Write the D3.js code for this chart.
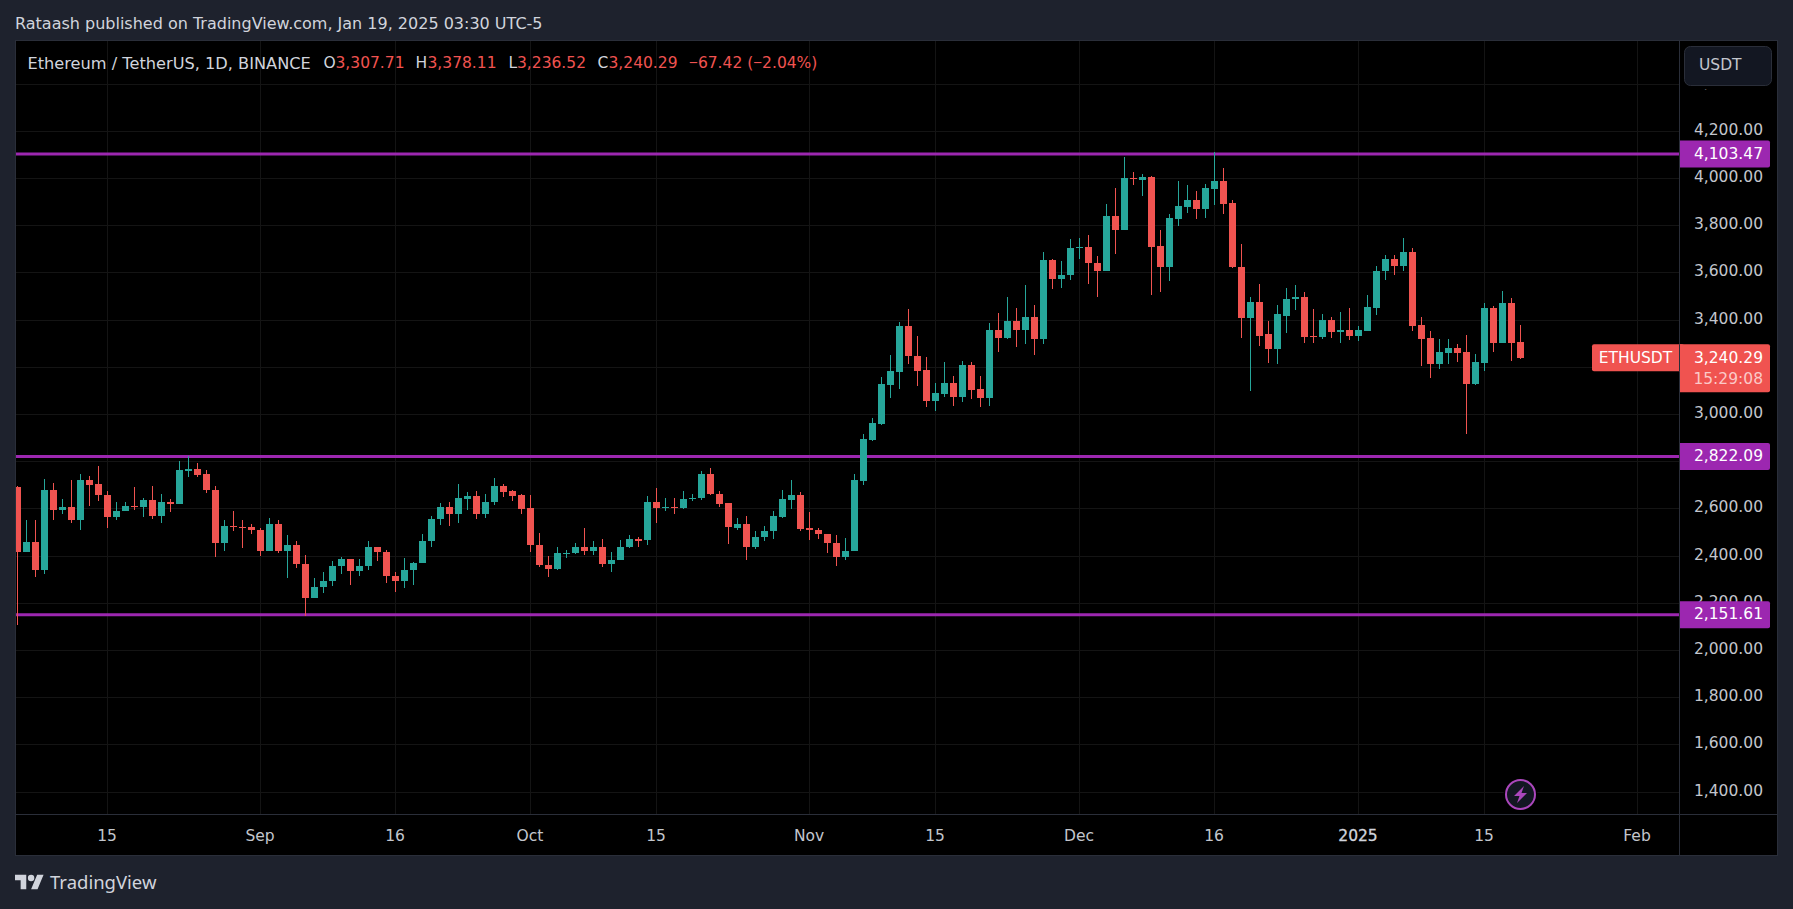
<!DOCTYPE html>
<html>
<head>
<meta charset="utf-8">
<script src="https://cdn.jsdelivr.net/npm/d3@7"></script>
<style>
    html, body { margin: 0; padding: 0; background: #1e222d; overflow: hidden; }
    text { font-family: "DejaVu Sans", sans-serif; }
</style>
</head>
<body>
<div id="chart-area"></div>
<script>
    // ETHUSDT daily candles, Aug 5 2024 -> Jan 19 2025
    const opens = [2691, 2416, 2461, 2340, 2682, 2595, 2610, 2552, 2721, 2704,
        2661, 2565, 2590, 2614, 2606, 2636, 2569, 2631, 2620, 2759,
        2767, 2746, 2682, 2454, 2529, 2525, 2525, 2512, 2420, 2538,
        2420, 2449, 2368, 2221, 2267, 2293, 2357, 2389, 2335, 2357,
        2440, 2419, 2317, 2293, 2340, 2369, 2463, 2556, 2610, 2578,
        2644, 2653, 2578, 2629, 2695, 2674, 2657, 2602, 2449, 2364,
        2344, 2411, 2412, 2440, 2420, 2440, 2365, 2382, 2437, 2474,
        2467, 2631, 2606, 2610, 2603, 2640, 2646, 2746, 2665, 2623,
        2521, 2534, 2437, 2480, 2505, 2565, 2637, 2661, 2517, 2512,
        2495, 2457, 2395, 2420, 2719, 2893, 2961, 3127, 3182, 3376,
        3248, 3189, 3059, 3088, 3134, 3076, 3210, 3108, 3071, 3359,
        3326, 3397, 3356, 3415, 3322, 3653, 3576, 3589, 3704, 3708,
        3644, 3610, 3840, 3780, 4001, 3993, 4006, 3712, 3623, 3827,
        3878, 3908, 3870, 3955, 3989, 3895, 3627, 3411, 3475, 3339,
        3279, 3419, 3491, 3496, 3334, 3330, 3402, 3351, 3360, 3334,
        3355, 3453, 3606, 3657, 3631, 3687, 3381, 3326, 3215, 3262,
        3283, 3266, 3130, 3219, 3453, 3304, 3474, 3307.71];
    const highs = [2699, 2555, 2551, 2725, 2708, 2644, 2721, 2750, 2738, 2780,
        2674, 2631, 2631, 2691, 2648, 2695, 2665, 2644, 2801, 2823,
        2793, 2763, 2699, 2555, 2593, 2551, 2534, 2517, 2563, 2555,
        2491, 2466, 2406, 2308, 2334, 2381, 2398, 2389, 2389, 2466,
        2440, 2427, 2334, 2393, 2376, 2495, 2572, 2623, 2631, 2704,
        2670, 2674, 2665, 2729, 2704, 2682, 2665, 2657, 2500, 2402,
        2440, 2427, 2457, 2521, 2466, 2474, 2419, 2470, 2491, 2483,
        2653, 2687, 2648, 2648, 2674, 2665, 2759, 2772, 2674, 2627,
        2563, 2568, 2508, 2529, 2589, 2682, 2721, 2670, 2585, 2521,
        2495, 2491, 2478, 2746, 2917, 2985, 3159, 3253, 3393, 3448,
        3333, 3244, 3134, 3223, 3163, 3227, 3223, 3163, 3389, 3431,
        3499, 3452, 3547, 3464, 3687, 3661, 3649, 3742, 3746, 3759,
        3670, 3891, 3959, 4091, 4027, 4018, 4010, 3780, 3848, 3989,
        3972, 3946, 3976, 4112, 4044, 3908, 3721, 3500, 3555, 3398,
        3463, 3538, 3547, 3517, 3446, 3427, 3415, 3436, 3453, 3376,
        3508, 3631, 3674, 3674, 3746, 3704, 3415, 3355, 3321, 3321,
        3300, 3338, 3258, 3474, 3461, 3525, 3495, 3378.11];
    const lows = [2110, 2416, 2310, 2323, 2552, 2578, 2539, 2510, 2612, 2633,
        2518, 2552, 2590, 2595, 2565, 2556, 2539, 2586, 2619, 2735,
        2735, 2667, 2395, 2420, 2505, 2433, 2493, 2399, 2420, 2412,
        2306, 2348, 2148, 2221, 2242, 2272, 2323, 2276, 2314, 2340,
        2378, 2284, 2250, 2263, 2276, 2369, 2437, 2531, 2527, 2539,
        2595, 2556, 2561, 2616, 2650, 2633, 2578, 2416, 2352, 2310,
        2340, 2391, 2408, 2403, 2403, 2352, 2331, 2382, 2433, 2437,
        2446, 2539, 2590, 2578, 2599, 2633, 2637, 2657, 2607, 2450,
        2510, 2382, 2429, 2463, 2471, 2561, 2599, 2505, 2467, 2471,
        2412, 2357, 2382, 2420, 2702, 2889, 2957, 3071, 3110, 3212,
        3122, 3033, 3016, 3076, 3037, 3054, 3067, 3033, 3037, 3263,
        3318, 3284, 3300, 3254, 3300, 3530, 3534, 3568, 3661, 3555,
        3500, 3610, 3678, 3780, 3972, 3925, 3508, 3517, 3564, 3797,
        3853, 3827, 3831, 3887, 3848, 3619, 3326, 3101, 3292, 3220,
        3214, 3345, 3441, 3305, 3305, 3321, 3326, 3304, 3317, 3313,
        3355, 3423, 3572, 3593, 3610, 3355, 3207, 3156, 3194, 3215,
        3224, 2918, 3126, 3185, 3266, 3304, 3228, 3236.52];
    const closes = [2416, 2461, 2340, 2682, 2595, 2610, 2552, 2721, 2701, 2658,
        2565, 2593, 2614, 2612, 2636, 2569, 2631, 2620, 2763, 2767,
        2743, 2680, 2454, 2529, 2527, 2522, 2510, 2420, 2538, 2420,
        2449, 2365, 2221, 2270, 2296, 2360, 2389, 2335, 2360, 2440,
        2416, 2314, 2293, 2343, 2372, 2466, 2559, 2610, 2578, 2648,
        2653, 2578, 2631, 2695, 2671, 2654, 2599, 2446, 2361, 2344,
        2415, 2415, 2440, 2420, 2440, 2365, 2385, 2440, 2474, 2466,
        2631, 2603, 2610, 2603, 2644, 2648, 2746, 2663, 2620, 2522,
        2534, 2437, 2483, 2508, 2568, 2640, 2661, 2514, 2510, 2493,
        2454, 2395, 2423, 2721, 2896, 2964, 3129, 3185, 3376, 3246,
        3186, 3059, 3091, 3134, 3076, 3210, 3105, 3071, 3359, 3326,
        3397, 3360, 3415, 3322, 3653, 3576, 3593, 3704, 3708, 3640,
        3610, 3840, 3780, 4001, 3997, 4006, 3708, 3623, 3831, 3882,
        3908, 3870, 3959, 3989, 3891, 3623, 3411, 3475, 3334, 3279,
        3424, 3491, 3496, 3330, 3330, 3402, 3351, 3360, 3334, 3360,
        3457, 3610, 3657, 3631, 3687, 3376, 3321, 3215, 3266, 3283,
        3262, 3130, 3224, 3453, 3304, 3474, 3304, 3240.29];

    const firstDay = new Date(Date.UTC(2024, 7, 5));
    const lastTickDay = new Date(Date.UTC(2025, 1, 1));

    const timeTicks = [new Date(Date.UTC(2024, 7, 15)), new Date(Date.UTC(2024, 8, 1)), new Date(Date.UTC(2024, 8, 16)),
        new Date(Date.UTC(2024, 9, 1)), new Date(Date.UTC(2024, 9, 15)), new Date(Date.UTC(2024, 10, 1)),
        new Date(Date.UTC(2024, 10, 15)), new Date(Date.UTC(2024, 11, 1)), new Date(Date.UTC(2024, 11, 16)),
        new Date(Date.UTC(2025, 0, 1)), new Date(Date.UTC(2025, 0, 15)), lastTickDay];
    const timeLabels = ["15", "Sep", "16", "Oct", "15", "Nov", "15", "Dec", "16", "2025", "15", "Feb"];

    const priceTicks = [4400, 4200, 4000, 3800, 3600, 3400, 3200, 3000, 2800, 2600, 2400, 2200, 2000, 1800, 1600, 1400];
    // these two sit fully behind the price tags in the reference, grid only
    const hiddenPriceLabels = [3200, 2800];
    const levels = [4103.47, 2822.09, 2151.61];
    const lastPrice = 3240.29;

    const legendTitle = "Ethereum / TetherUS, 1D, BINANCE";
    const legendLetters = ["O", "H", "L", "C"];
    const legendValues = ["3,307.71", "3,378.11", "3,236.52", "3,240.29"];
    const legendChange = ["\u2212", "67.42 (", "\u2212", "2.04%)"];

    /******************** layout ********************/
    const width = 1793;
    const height = 909;
    const paneLeft = 16;
    const paneTop = 41;
    const paneRight = 1679;
    const paneBottom = 814;
    const frameRight = 1777;
    const frameBottom = 855;
    const fontSize = "15.5px";

    const green = "#26a69a";
    const red = "#f05350";
    const purple = "#9c27b0";
    const frameBg = "#1e222d";
    const border = "#2a2e39";
    const gridColor = "#141414";
    const axisText = "#c3c6cd";

    const svg = d3.select("#chart-area").append("svg")
        .attr("width", width)
        .attr("height", height)
        .style("display", "block");

    svg.append("rect").attr("width", width).attr("height", height).attr("fill", frameBg);
    svg.append("rect")
        .attr("x", paneLeft - 0.5).attr("y", paneTop - 0.5)
        .attr("width", frameRight - paneLeft + 1).attr("height", frameBottom - paneTop + 1)
        .attr("fill", "#000").attr("stroke", border);

    svg.append("clipPath").attr("id", "pane-clip").append("rect")
        .attr("x", paneLeft).attr("y", paneTop)
        .attr("width", paneRight - paneLeft).attr("height", paneBottom - paneTop);
    // price labels are cut off under the USDT button, only the 4,400 comma peeks out
    svg.append("clipPath").attr("id", "price-clip").append("rect")
        .attr("x", paneRight).attr("y", 89.5)
        .attr("width", frameRight - paneRight).attr("height", paneBottom - 89.5);

    /******************** scales ********************/
    const x = d3.scaleUtc()
        .domain([firstDay, lastTickDay])
        .range([17.5, 1637.5]);

    const y = d3.scaleLinear()
        .domain([4400, 1400])
        .range([84.1, 792.1]);

    const pane = svg.append("g").attr("clip-path", "url(#pane-clip)");

    /******************** grid ********************/
    const xGrid = d3.axisBottom(x).tickValues(timeTicks).tickSize(paneBottom - paneTop).tickFormat("");
    pane.append("g")
        .attr("transform", `translate(-0.5,${paneTop})`)
        .call(xGrid)
        .call(g => g.select(".domain").remove())
        .call(g => g.selectAll("line").attr("stroke", gridColor).attr("shape-rendering", "crispEdges"));

    const yGrid = d3.axisRight(y).tickValues(priceTicks).tickSize(paneRight - paneLeft).tickFormat("");
    pane.append("g")
        .attr("transform", `translate(${paneLeft},-0.5)`)
        .call(yGrid)
        .call(g => g.select(".domain").remove())
        .call(g => g.selectAll("line").attr("stroke", gridColor).attr("shape-rendering", "crispEdges"));

    /******************** horizontal levels ********************/
    pane.selectAll(".level")
        .data(levels)
        .join("line")
        .attr("class", "level")
        .attr("x1", paneLeft)
        .attr("x2", paneRight)
        .attr("y1", d => y(d))
        .attr("y2", d => y(d))
        .attr("stroke", purple)
        .attr("stroke-width", 3);

    /******************** candles ********************/
    const candles = opens.map((o, i) => ({
        date: d3.utcDay.offset(firstDay, i),
        open: o, high: highs[i], low: lows[i], close: closes[i]
    }));
    const candleColor = d => d.close >= d.open ? green : red;

    pane.selectAll(".wick")
        .data(candles)
        .join("rect")
        .attr("class", "wick")
        .attr("x", d => x(d.date) - 0.5)
        .attr("y", d => y(d.high))
        .attr("width", 1)
        .attr("height", d => y(d.low) - y(d.high))
        .attr("fill", candleColor)
        .attr("shape-rendering", "crispEdges");

    pane.selectAll(".body")
        .data(candles)
        .join("rect")
        .attr("class", "body")
        .attr("x", d => x(d.date) - 3.5)
        .attr("y", d => y(Math.max(d.open, d.close)))
        .attr("width", 7)
        .attr("height", d => Math.max(1, Math.abs(y(d.open) - y(d.close))))
        .attr("fill", candleColor)
        .attr("shape-rendering", "crispEdges");

    /******************** axes ********************/
    const priceFormat = d3.format(",.2f");
    const priceAxis = d3.axisRight(y)
        .tickValues(priceTicks.filter(d => !hiddenPriceLabels.includes(d)))
        .tickSize(0)
        .tickFormat(priceFormat);

    const priceG = svg.append("g")
        .attr("clip-path", "url(#price-clip)")
        .append("g")
        .attr("transform", `translate(${paneRight},-2)`)
        .call(priceAxis);
    priceG.select(".domain").remove();
    priceG.selectAll("text")
        .attr("x", 1763 - paneRight)
        .attr("text-anchor", "end")
        .attr("fill", axisText)
        .style("font-size", fontSize);

    const timeAxis = d3.axisBottom(x)
        .tickValues(timeTicks)
        .tickSize(0)
        .tickFormat((d, i) => timeLabels[i]);

    const timeG = svg.append("g")
        .attr("transform", `translate(-1,${paneBottom})`)
        .call(timeAxis);
    timeG.select(".domain").remove();
    timeG.selectAll("text")
        .attr("y", 22)
        .attr("dy", "0.35em")
        .attr("fill", (d, i) => timeLabels[i] === "2025" ? "#d1d4dc" : axisText)
        .attr("stroke", (d, i) => timeLabels[i] === "2025" ? "#d1d4dc" : "none")
        .attr("stroke-width", 0.3)
        .style("font-size", fontSize);

    svg.append("line")
        .attr("x1", paneLeft).attr("x2", frameRight)
        .attr("y1", paneBottom + 0.5).attr("y2", paneBottom + 0.5)
        .attr("stroke", border);
    svg.append("line")
        .attr("x1", paneRight + 0.5).attr("x2", paneRight + 0.5)
        .attr("y1", paneTop).attr("y2", frameBottom)
        .attr("stroke", border);

    /******************** USDT button ********************/
    svg.append("rect")
        .attr("x", 1684.5).attr("y", 46.5)
        .attr("width", 87).attr("height", 39).attr("rx", 6)
        .attr("fill", "#131722").attr("stroke", border);
    svg.append("text")
        .attr("x", 1699).attr("y", 65).attr("dy", "0.35em")
        .attr("fill", axisText).style("font-size", fontSize)
        .text("USDT");

    /******************** price tags ********************/
    function tagPath(x0, y0, w, h, r) {
        return `M${x0},${y0}H${x0 + w - r}Q${x0 + w},${y0} ${x0 + w},${y0 + r}V${y0 + h - r}Q${x0 + w},${y0 + h} ${x0 + w - r},${y0 + h}H${x0}Z`;
    }

    svg.selectAll(".level-tag")
        .data(levels)
        .join("path")
        .attr("class", "level-tag")
        .attr("d", d => tagPath(paneRight + 1, y(d) - 13.5, 90, 27, 2))
        .attr("fill", purple);
    svg.selectAll(".level-label")
        .data(levels)
        .join("text")
        .attr("class", "level-label")
        .attr("x", 1763)
        .attr("y", d => y(d) - 0.7)
        .attr("dy", "0.35em")
        .attr("text-anchor", "end")
        .attr("fill", "#fff")
        .style("font-size", fontSize)
        .text(priceFormat);

    const yLast = y(lastPrice);
    svg.append("rect")
        .attr("x", 1592).attr("y", yLast - 13.5)
        .attr("width", 92).attr("height", 27).attr("rx", 2)
        .attr("fill", red);
    svg.append("rect")
        .attr("x", paneRight).attr("y", yLast - 13.5)
        .attr("width", 1).attr("height", 27)
        .attr("fill", border);
    svg.append("path")
        .attr("d", tagPath(paneRight + 1, yLast - 13.5, 90, 48, 2))
        .attr("fill", red);
    svg.append("text")
        .attr("x", 1763).attr("y", yLast - 0.5).attr("dy", "0.35em")
        .attr("text-anchor", "end").attr("fill", "#fff")
        .style("font-size", fontSize)
        .text(priceFormat(lastPrice));
    svg.append("text")
        .attr("x", 1763).attr("y", yLast + 20.5).attr("dy", "0.35em")
        .attr("text-anchor", "end").attr("fill", "#fbc9c8")
        .style("font-size", fontSize)
        .text("15:29:08");
    svg.append("text")
        .attr("x", 1635.5).attr("y", yLast - 0.5).attr("dy", "0.35em")
        .attr("text-anchor", "middle").attr("fill", "#fff")
        .style("font-size", fontSize)
        .text("ETHUSDT");

    /******************** header, legend ********************/
    svg.append("text")
        .attr("x", 15).attr("y", 23).attr("dy", "0.35em")
        .attr("fill", "#d1d4dc").style("font-size", "16px")
        .text("Rataash published on TradingView.com, Jan 19, 2025 03:30 UTC-5");

    svg.append("text")
        .attr("x", 27.5).attr("y", 63).attr("dy", "0.35em")
        .attr("fill", "#d1d4dc").style("font-size", "16.2px")
        .text(legendTitle);

    const letterX = [323.5, 415.5, 508.5, 597.5];
    const valueX = [335.5, 427.5, 517, 608.5];
    svg.selectAll(".legend-letter")
        .data(legendLetters)
        .join("text")
        .attr("class", "legend-letter")
        .attr("x", (d, i) => letterX[i]).attr("y", 63).attr("dy", "0.35em")
        .attr("fill", "#d1d4dc").style("font-size", fontSize)
        .text(d => d);
    svg.selectAll(".legend-value")
        .data(legendValues)
        .join("text")
        .attr("class", "legend-value")
        .attr("x", (d, i) => valueX[i]).attr("y", 63).attr("dy", "0.35em")
        .attr("fill", red).style("font-size", fontSize)
        .text(d => d);
    // the minus is much narrower in the reference than in DejaVu, so it takes Noto
    svg.append("text")
        .attr("x", 689).attr("y", 63).attr("dy", "0.35em")
        .attr("fill", red).style("font-size", fontSize)
        .selectAll("tspan")
        .data(legendChange)
        .join("tspan")
        .style("font-family", d => d === "\u2212" ? "Noto Sans" : null)
        .text(d => d);

    /******************** lightning badge ********************/
    const badge = svg.append("g").attr("transform", "translate(1520.5,794.5)");
    badge.append("circle").attr("r", 17).attr("fill", "#000");
    badge.append("circle").attr("r", 14.5)
        .attr("fill", "#131722").attr("stroke", "#ab47bc").attr("stroke-width", 2);
    badge.append("path")
        .attr("d", "M3.5,-8.5 L-6.5,1.5 H-1 L-3.5,8.5 L6.5,-1.5 H1 Z")
        .attr("fill", "#ab47bc");

    /******************** TradingView logo ********************/
    const logo = svg.append("g")
        .attr("transform", "translate(15,871.5) scale(0.805)")
        .attr("fill", "#d1d4dc");
    logo.append("path").attr("d", "M14 22H7V11H0V4h14v18zM28 22h-8l7.5-18h8L28 22z");
    logo.append("circle").attr("cx", 20).attr("cy", 8).attr("r", 4);
    svg.append("text")
        .attr("x", 50).attr("y", 883).attr("dy", "0.35em")
        .attr("fill", "#d1d4dc").style("font-size", "18.5px").style("font-family", "Noto Sans")
        .text("TradingView");
</script>
</body>
</html>
